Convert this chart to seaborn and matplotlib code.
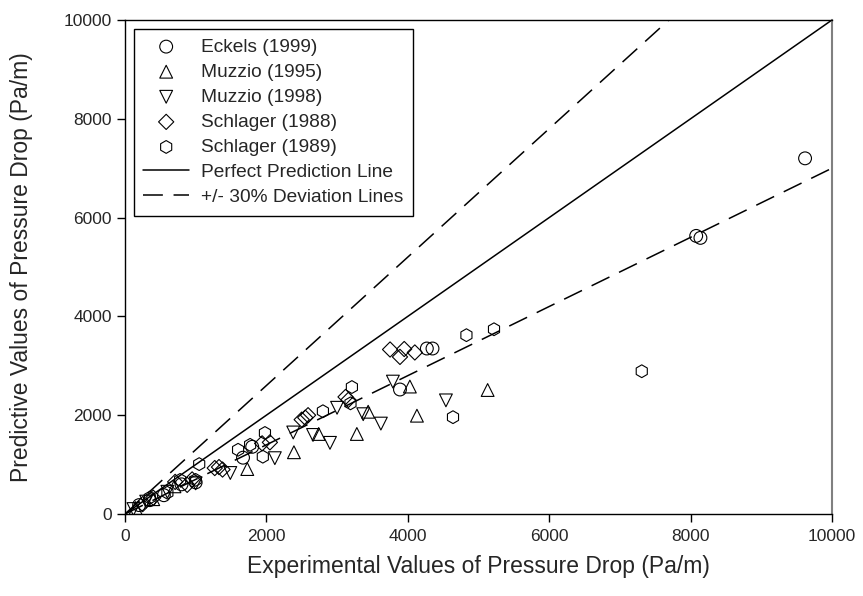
import numpy as np
import pandas as pd
import matplotlib
matplotlib.use("Agg")
import matplotlib.pyplot as plt
import seaborn as sns

# data (Pa/m)
eckels_x = [9620, 8080, 8140, 4270, 4350, 3890, 1800, 1670, 1000, 800, 550, 350, 200]
eckels_y = [7200, 5630, 5590, 3350, 3350, 2520, 1360, 1140, 640, 600, 380, 280, 180]

muzzio95_x = [5130, 4130, 4030, 3440, 3280, 2740, 2390, 1730, 700, 400, 150]
muzzio95_y = [2510, 1990, 2580, 2070, 1620, 1620, 1250, 910, 560, 300, 120]

muzzio98_x = [4540, 3790, 3620, 3370, 3000, 2900, 2660, 2380, 2120, 1490, 1000, 600, 300, 120]
muzzio98_y = [2300, 2680, 1830, 2020, 2150, 1440, 1600, 1650, 1130, 830, 620, 450, 250, 100]

schl88_x = [3750, 3950, 3890, 4100, 3120, 3160, 2590, 2550, 2500, 2050, 1940,
            1380, 1330, 1270, 950, 880, 710, 400, 250]
schl88_y = [3330, 3340, 3180, 3270, 2370, 2310, 2000, 1950, 1910, 1450, 1430,
            900, 950, 930, 700, 590, 650, 330, 200]

schl89_x = [7310, 5220, 4830, 4640, 3210, 3190, 2800, 1980, 1950, 1770, 1600,
            1050, 1000, 780, 600, 350]
schl89_y = [2890, 3740, 3620, 1960, 2570, 2240, 2080, 1640, 1160, 1400, 1300,
            1010, 690, 690, 430, 330]

line_x = np.array([0, 10000])

series = [
    ("Eckels (1999)", eckels_x, eckels_y, "o"),
    ("Muzzio (1995)", muzzio95_x, muzzio95_y, "^"),
    ("Muzzio (1998)", muzzio98_x, muzzio98_y, "v"),
    ("Schlager (1988)", schl88_x, schl88_y, "D"),
    ("Schlager (1989)", schl89_x, schl89_y, "h"),
]

sns.set_style("ticks")
plt.rcParams['font.family'] = ['Liberation Sans', 'DejaVu Sans']

fig = plt.figure(figsize=(8.63, 5.96), dpi=100)
ax = fig.add_axes([0.1448, 0.1376, 0.8192, 0.8288])

for name, xs, ys, mk in series:
    df = pd.DataFrame({"x": xs, "y": ys})
    size = 60 if mk == "D" else 85
    sns.scatterplot(data=df, x="x", y="y", marker=mk, s=size, ax=ax,
                    facecolors="none", edgecolor="black", linewidth=0.8,
                    label=name, zorder=3)

ax.plot(line_x, line_x, color="black", lw=1.1, label="Perfect Prediction Line")
ax.plot(line_x, 1.3 * line_x, color="black", lw=1.1, dashes=(13, 7),
        label="+/- 30% Deviation Lines")
ax.plot(line_x, 0.7 * line_x, color="black", lw=1.1, dashes=(13, 7))

ax.set_xlim(0, 10000)
ax.set_ylim(0, 10000)
ax.set_xticks(range(0, 10001, 2000))
ax.set_yticks(range(0, 10001, 2000))
ax.tick_params(direction="out", length=6, width=1, labelsize=12.5, color="black")
ax.tick_params(axis="x", pad=5)
ax.set_xlabel("Experimental Values of Pressure Drop (Pa/m)", fontsize=16.5, labelpad=8)
ax.set_ylabel("Predictive Values of Pressure Drop (Pa/m)", fontsize=16.5, labelpad=22)

for side in ["left", "bottom", "top"]:
    ax.spines[side].set_color("black")
    ax.spines[side].set_linewidth(1)
ax.spines["right"].set_color("#808080")
ax.spines["right"].set_linewidth(1.5)

leg = ax.legend(loc="upper left", fontsize=13.8, frameon=True, fancybox=False,
                edgecolor="black", framealpha=1, borderaxespad=0.45,
                handlelength=2.4, labelspacing=0.4, handletextpad=0.6,
                borderpad=0.5)
leg.get_frame().set_linewidth(1)

fig.savefig("out.png", dpi=100)
